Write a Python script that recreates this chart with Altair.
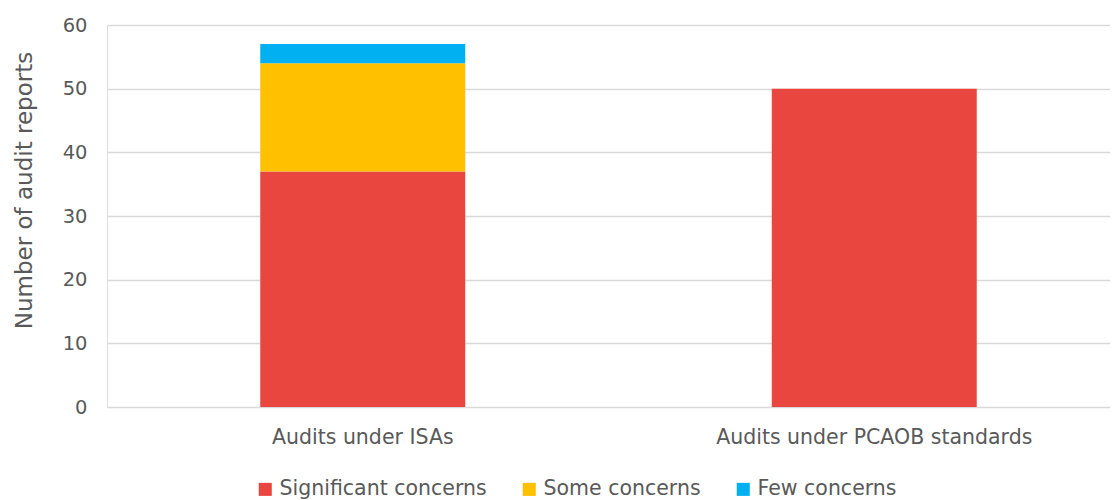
import altair as alt
import pandas as pd

categories = ["Audits under ISAs", "Audits under PCAOB standards"]
series = ["Significant concerns", "Some concerns", "Few concerns"]
significant = [37, 50]
some = [17, 0]
few = [3, 0]
colors = ["#E8463E", "#FFC000", "#00B0F0"]

rows = []
for i, c in enumerate(categories):
    for k, (s, vals) in enumerate(zip(series, [significant, some, few])):
        rows.append({"category": c, "series": s, "value": vals[i], "order": k})
df = pd.DataFrame(rows)

font = "DejaVu Sans"
gray = "#595959"

chart = alt.Chart(df).mark_bar(size=205).encode(
    x=alt.X("category:N", sort=categories, title=None,
            scale=alt.Scale(paddingInner=0, paddingOuter=0, range=[0, 1023]),
            axis=alt.Axis(labelAngle=0, labelFontSize=20.5, labelColor=gray, labelFont=font,
                          ticks=False, domain=False, labelPadding=20, labelLimit=0)),
    y=alt.Y("value:Q", stack="zero", title="Number of audit reports",
            scale=alt.Scale(domain=[0, 60]),
            axis=alt.Axis(values=[0, 10, 20, 30, 40, 50, 60], labelFontSize=19.5, labelColor=gray,
                          labelFont=font, titleFont=font, titleFontSize=23, titleColor=gray,
                          titleFontWeight="normal", ticks=False, domain=False,
                          gridColor="#D9D9D9", gridWidth=1.5, labelPadding=20, titlePadding=26,
                          titleY=165)),
    color=alt.Color("series:N", sort=series,
                    scale=alt.Scale(domain=series, range=colors),
                    legend=alt.Legend(title=None, orient="none", direction="horizontal",
                                      legendX=148, legendY=454, symbolType="square",
                                      symbolSize=170, symbolStrokeWidth=0, labelFontSize=20.5,
                                      labelColor=gray, labelFont=font, columnPadding=32,
                                      labelOffset=4, labelLimit=0)),
    order=alt.Order("order:Q", sort="ascending"),
).properties(
    width=1003, height=382,
    autosize=alt.AutoSizeParams(type="none"),
    padding={"left": 99, "top": 17, "right": 0, "bottom": 93},
).configure_view(stroke=None).configure(background="white")

chart.save("out.html", embed_options={"renderer": "svg", "actions": False})
